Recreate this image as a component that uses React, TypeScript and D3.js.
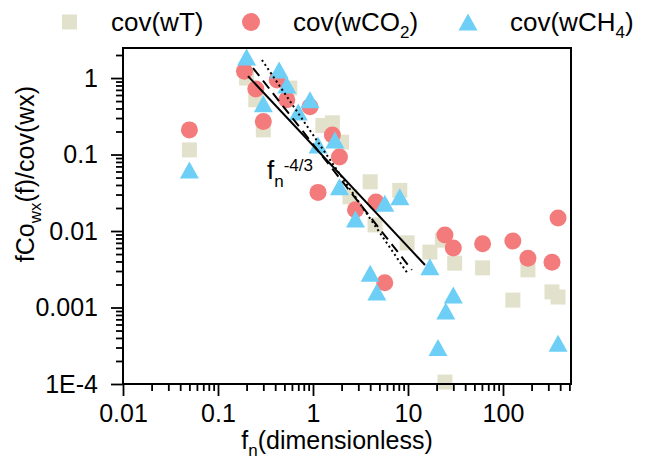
import React, { useEffect, useRef } from 'react';
import * as d3 from 'd3';

// cov(wT) - squares
const wtX = [0.05, 0.2, 0.25, 0.3, 0.57, 1.27, 1.6, 2.0, 2.45, 4.0, 4.5, 8.2, 9.8, 17, 23, 31, 61, 127, 183, 328, 380, 24.5];
const wtY = [0.115, 1.0, 0.52, 0.21, 0.74, 0.24, 0.26, 0.145, 0.028, 0.044, 0.012, 0.034, 0.007, 0.0053, 0.0076, 0.0038, 0.0033, 0.00125, 0.0031, 0.0016, 0.00137, 0.000106];

// cov(wCO2) - circles
const co2X = [0.05, 0.19, 0.25, 0.3, 0.42, 0.53, 0.93, 1.6, 1.9, 1.13, 2.8, 4.6, 5.7, 24.5, 30, 61, 127, 183, 328, 380];
const co2Y = [0.21, 1.23, 0.72, 0.27, 0.94, 0.52, 0.42, 0.18, 0.093, 0.032, 0.019, 0.024, 0.0021, 0.0089, 0.006, 0.0068, 0.0074, 0.0044, 0.0039, 0.0148];

// cov(wCH4) - triangles
const ch4X = [0.05, 0.2, 0.3, 0.44, 0.53, 0.7, 0.93, 1.13, 1.7, 1.9, 2.8, 5.7, 8.2, 4.0, 4.7, 17, 30, 25, 20.7, 380];
const ch4Y = [0.063, 1.88, 0.46, 1.27, 0.81, 0.36, 0.52, 0.133, 0.155, 0.038, 0.0144, 0.023, 0.028, 0.0028, 0.0016, 0.0034, 0.00146, 0.0009, 0.0003, 0.00034];

// fitted lines (end points)
const solidFit = [[0.207, 1.06], [15.1, 0.0036]];
const dashedFit = [[0.234, 1.35], [11.0, 0.0031]];
const dottedFit = [[0.29, 1.72], [10.0, 0.00274]];

const xTicks = [0.01, 0.1, 1, 10, 100];
const xTickLabels = ['0.01', '0.1', '1', '10', '100'];
const yTicks = [1, 0.1, 0.01, 0.001, 0.0001];
const yTickLabels = ['1', '0.1', '0.01', '0.001', '1E-4'];

const FONT = '"Liberation Sans", Arial, sans-serif';
const C_WT = '#e2e2cc';
const C_CO2 = '#f47b7b';
const C_CH4 = '#6dcff6';

const App = () => {
  const svgRef = useRef(null);

  useEffect(() => {
    const svg = d3.select(svgRef.current);
    svg.selectAll('*').remove();

    const left = 123, right = 571, top = 48, bottom = 384;
    const x = d3.scaleLog().domain([0.01, 520]).range([left, right]);
    const y = d3.scaleLog().domain([1e-4, 2.47]).range([bottom, top]);

    const minor = (lo, hi) => {
      const out = [];
      for (let d = -5; d <= 3; d++) {
        for (let k = 2; k <= 9; k++) {
          const v = k * Math.pow(10, d);
          if (v > lo && v < hi) out.push(v);
        }
      }
      return out;
    };

    // points
    const sq = 15;
    svg.append('g').selectAll('rect')
      .data(wtX.map((v, i) => [v, wtY[i]]))
      .enter()
      .append('rect')
      .attr('x', d => x(d[0]) - sq / 2)
      .attr('y', d => y(d[1]) - sq / 2)
      .attr('width', sq)
      .attr('height', sq)
      .attr('fill', C_WT);

    svg.append('g').selectAll('circle')
      .data(co2X.map((v, i) => [v, co2Y[i]]))
      .enter()
      .append('circle')
      .attr('cx', d => x(d[0]))
      .attr('cy', d => y(d[1]))
      .attr('r', 8.5)
      .attr('fill', C_CO2);

    const tri = (cx, cy) => `M${cx},${cy - 8.5}L${cx - 9.5},${cy + 8.5}L${cx + 9.5},${cy + 8.5}Z`;
    svg.append('g').selectAll('path')
      .data(ch4X.map((v, i) => [v, ch4Y[i]]))
      .enter()
      .append('path')
      .attr('d', d => tri(x(d[0]), y(d[1])))
      .attr('fill', C_CH4);

    // fit lines
    const line = d3.line().x(d => x(d[0])).y(d => y(d[1]));
    svg.append('path').attr('d', line(solidFit)).attr('stroke', '#000').attr('stroke-width', 2).attr('fill', 'none');
    svg.append('path').attr('d', line(dashedFit)).attr('stroke', '#000').attr('stroke-width', 2)
      .attr('stroke-dasharray', '10,6').attr('fill', 'none');
    svg.append('path').attr('d', line(dottedFit)).attr('stroke', '#000').attr('stroke-width', 2)
      .attr('stroke-dasharray', '2,3').attr('fill', 'none');

    // frame
    svg.append('rect')
      .attr('x', left).attr('y', top)
      .attr('width', right - left).attr('height', bottom - top)
      .attr('fill', 'none').attr('stroke', '#000').attr('stroke-width', 2);

    const styleAxis = g => {
      g.select('.domain').remove();
      g.selectAll('line').attr('stroke', '#000').attr('stroke-width', 1.8);
      g.selectAll('text').attr('font-size', 25).attr('font-family', FONT).attr('fill', '#000');
    };

    svg.append('g')
      .attr('transform', `translate(0,${bottom})`)
      .call(d3.axisBottom(x).tickValues(xTicks).tickFormat((d, i) => xTickLabels[i]).tickSize(12).tickPadding(8))
      .call(styleAxis);
    svg.append('g')
      .attr('transform', `translate(0,${bottom})`)
      .call(d3.axisBottom(x).tickValues(minor(0.01, 520)).tickFormat(() => '').tickSize(7))
      .call(styleAxis);

    svg.append('g')
      .attr('transform', `translate(${left},0)`)
      .call(d3.axisLeft(y).tickValues(yTicks).tickFormat((d, i) => yTickLabels[i]).tickSize(12).tickPadding(13))
      .call(styleAxis);
    svg.append('g')
      .attr('transform', `translate(${left},0)`)
      .call(d3.axisLeft(y).tickValues(minor(1e-4, 2.47)).tickFormat(() => '').tickSize(7))
      .call(styleAxis);

    // axis titles
    const xt = svg.append('text')
      .attr('x', 337).attr('y', 449)
      .attr('text-anchor', 'middle')
      .attr('font-family', FONT).attr('font-size', 25);
    xt.append('tspan').text('f');
    xt.append('tspan').attr('font-size', 17).attr('dy', 7).text('n');
    xt.append('tspan').attr('dy', -7).text('(dimensionless)');

    const yt = svg.append('text')
      .attr('transform', 'translate(34,174) rotate(-90)')
      .attr('text-anchor', 'middle')
      .attr('font-family', FONT).attr('font-size', 25);
    yt.append('tspan').text('fCo');
    yt.append('tspan').attr('font-size', 17).attr('dy', 7).text('wx');
    yt.append('tspan').attr('dy', -7).text('(f)/cov(wx)');

    // slope annotation
    const an = svg.append('text')
      .attr('x', 267).attr('y', 179)
      .attr('font-family', FONT).attr('font-size', 26);
    an.append('tspan').text('f');
    an.append('tspan').attr('font-size', 17).attr('y', 187).text('n');
    an.append('tspan').attr('font-size', 17).attr('y', 171).text('-4/3');

    // legend
    const ly = 22;
    const legend = svg.append('g').attr('font-family', FONT).attr('font-size', 26);
    legend.append('rect').attr('x', 62).attr('y', ly - 7.5).attr('width', 15).attr('height', 15).attr('fill', C_WT);
    legend.append('text').attr('x', 111).attr('y', ly + 9).text('cov(wT)');

    legend.append('circle').attr('cx', 251).attr('cy', ly).attr('r', 9).attr('fill', C_CO2);
    const l2 = legend.append('text').attr('x', 293).attr('y', ly + 9);
    l2.append('tspan').text('cov(wCO');
    l2.append('tspan').attr('font-size', 17).attr('dy', 7).text('2');
    l2.append('tspan').attr('dy', -7).text(')');

    legend.append('path').attr('d', tri(468, ly)).attr('fill', C_CH4);
    const l3 = legend.append('text').attr('x', 510).attr('y', ly + 9);
    l3.append('tspan').text('cov(wCH');
    l3.append('tspan').attr('font-size', 17).attr('dy', 7).text('4');
    l3.append('tspan').attr('dy', -7).text(')');
  }, []);

  return (
    <svg
      ref={svgRef}
      width={652}
      height={464}
      style={{ position: 'absolute', left: 0, top: 0, background: '#fff' }}
    />
  );
};

export default App;
